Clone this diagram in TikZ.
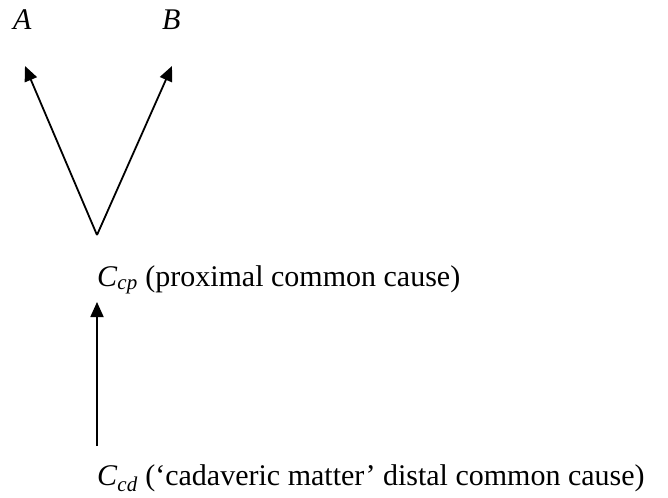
\documentclass[tikz,border=0pt]{standalone}
\usepackage{fontspec}
\setmainfont{Liberation Serif}
\usetikzlibrary{arrows.meta}
\begin{document}
\begin{tikzpicture}[x=1pt,y=-1pt,
  lbl/.style={anchor=base west,inner sep=0pt,font=\fontsize{30}{34}\selectfont},
  arr/.style={line width=1.8pt,-{Triangle[length=15pt,width=13pt]}}]
\useasboundingbox (0,0) rectangle (668,497);
\node[lbl] (A) at (13,30) {\textit{A}};
\node[lbl] (B) at (162,30) {\textit{B}};
\node[lbl] (Ccp) at (97,286) {\textit{C}\textsubscript{\textit{cp}} (proximal common cause)};
\node[lbl] (Ccd) at (97,485) {\textit{C}\textsubscript{\textit{cd}} (‘cadaveric matter’ distal common cause)};
\coordinate (V) at (97,235);
\coordinate (tA) at (25,66);
\coordinate (tB) at (172,66);
\coordinate (bot) at (97,446);
\coordinate (tC) at (97,302);
\draw[arr] (V) -- (tA);
\draw[arr] (V) -- (tB);
\draw[arr] (bot) -- (tC);
\end{tikzpicture}
\end{document}
